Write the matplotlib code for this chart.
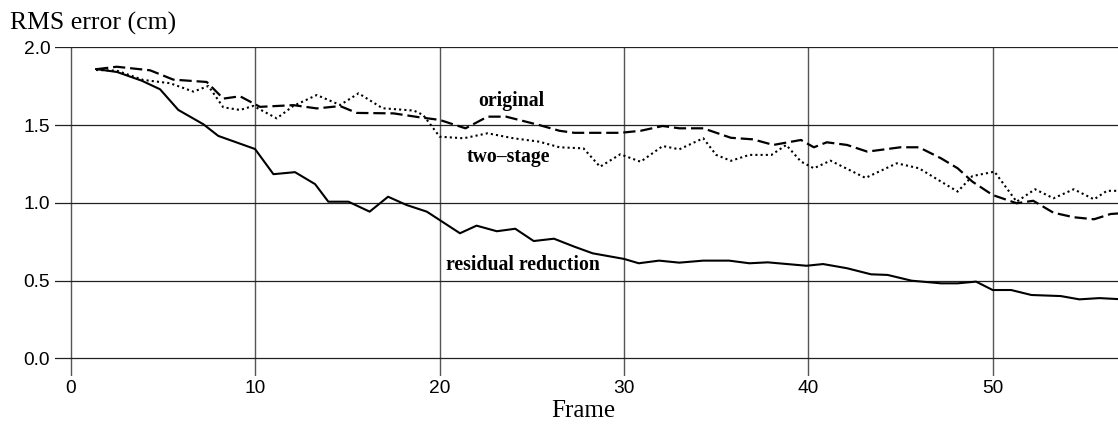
import matplotlib
matplotlib.use("Agg")
import matplotlib.pyplot as plt

# ---- data ----
res_x = [1.36, 2.5, 3.84, 4.83, 5.82, 7.18, 7.99, 9.98, 10.98, 12.15, 13.24, 13.96, 15.05,
         16.2, 17.2, 18.2, 19.3, 20.0, 21.1, 22.0, 23.1, 24.1, 25.1, 26.2, 27.3, 28.3, 30.0,
         30.8, 31.9, 33.0, 34.3, 35.7, 36.8, 37.8, 39.9, 40.8, 42.1, 43.4, 44.3, 45.6, 47.2,
         48.1, 49.1, 50.0, 51.0, 52.1, 53.7, 54.7, 55.8, 56.9]
res_y = [1.860, 1.841, 1.785, 1.730, 1.597, 1.505, 1.430, 1.346, 1.184, 1.197, 1.120, 1.007, 1.007,
         0.943, 1.039, 0.986, 0.943, 0.889, 0.804, 0.853, 0.817, 0.833, 0.754, 0.769, 0.718, 0.675, 0.639,
         0.611, 0.628, 0.615, 0.628, 0.628, 0.611, 0.617, 0.595, 0.606, 0.579, 0.540, 0.536, 0.499, 0.482,
         0.482, 0.493, 0.439, 0.439, 0.407, 0.400, 0.379, 0.387, 0.380]

orig_x = [1.36, 2.48, 4.29, 5.55, 7.36, 8.26, 9.17, 10.25, 12.06, 13.33, 14.6, 15.5, 17.5, 18.9,
          20.0, 21.4, 22.6, 23.6, 25.4, 26.5, 27.3, 29.8, 30.9, 32.1, 33.0, 34.3, 35.8, 37.0, 38.1,
          39.6, 40.3, 41.0, 42.1, 43.2, 45.0, 46.0, 47.2, 48.1, 48.9, 50.0, 51.3, 52.2, 53.3, 54.4,
          55.5, 56.4, 56.9]
orig_y = [1.859, 1.875, 1.852, 1.792, 1.777, 1.670, 1.685, 1.617, 1.628, 1.607, 1.622, 1.578, 1.575, 1.550,
          1.533, 1.479, 1.554, 1.554, 1.500, 1.463, 1.450, 1.450, 1.463, 1.494, 1.479, 1.479, 1.418, 1.408, 1.372,
          1.404, 1.357, 1.389, 1.372, 1.329, 1.357, 1.357, 1.286, 1.222, 1.136, 1.050, 0.997, 1.013, 0.936, 0.907,
          0.894, 0.928, 0.932]

two_x = [1.36, 2.48, 3.92, 5.37, 6.64, 7.45, 8.26, 9.17, 9.89, 11.16, 12.06, 13.33, 14.6, 15.6, 16.9,
         18.6, 19.1, 20.0, 21.3, 22.6, 24.0, 25.4, 26.5, 27.8, 28.7, 29.8, 30.9, 32.1, 33.0, 34.3, 35.0,
         35.8, 36.8, 38.0, 38.8, 39.6, 40.3, 41.2, 43.1, 44.8, 46.0, 48.1, 48.9, 50.1, 51.3, 52.3, 53.3,
         54.4, 55.5, 56.2, 56.9]
two_y = [1.854, 1.850, 1.790, 1.769, 1.715, 1.751, 1.614, 1.597, 1.623, 1.543, 1.623, 1.693, 1.629, 1.704, 1.608,
         1.593, 1.565, 1.425, 1.415, 1.447, 1.415, 1.393, 1.357, 1.350, 1.232, 1.312, 1.264, 1.365, 1.344, 1.415, 1.308,
         1.270, 1.308, 1.308, 1.372, 1.265, 1.222, 1.271, 1.160, 1.254, 1.222, 1.072, 1.172, 1.200, 1.007, 1.087, 1.029,
         1.087, 1.022, 1.077, 1.077]

x_ticks = [0, 10, 20, 30, 40, 50]
y_ticks = [0.0, 0.5, 1.0, 1.5, 2.0]
y_tick_labels = ["0.0", "0.5", "1.0", "1.5", "2.0"]

# ---- figure ----
fig = plt.figure(figsize=(11.18, 4.25), dpi=100)
ax = fig.add_axes([0.0492, 0.1153, 0.9508, 0.7734])
ax.set_xlim(-0.87, 56.8)
ax.set_ylim(-0.114, 2.0)

for s in ax.spines.values():
    s.set_visible(False)

ax.set_xticks(x_ticks)
ax.set_yticks(y_ticks)
ax.set_yticklabels(y_tick_labels)
ax.tick_params(axis="both", length=0, labelsize=13.8)
ax.tick_params(axis="x", pad=3)
ax.tick_params(axis="y", pad=3.5)
for lab in ax.get_xticklabels() + ax.get_yticklabels():
    lab.set_fontfamily("Liberation Sans")

ax.xaxis.grid(True, color="#555555", lw=1.0)
ax.yaxis.grid(True, color="#222222", lw=0.9)
ax.set_axisbelow(True)

ax.plot(res_x, res_y, color="black", lw=1.5, ls="-")
ax.plot(orig_x, orig_y, color="black", lw=1.6, ls=(0, (5.5, 2.2)))
ax.plot(two_x, two_y, color="black", lw=1.5, ls=(0, (1, 1.5)))

bold = dict(fontfamily="Liberation Serif", fontweight="bold", fontsize=14.2,
            ha="center", va="baseline")
ax.text(23.87, 1.622, "original", **bold)
ax.text(23.71, 1.264, "two\u2013stage", **bold)
ax.text(24.53, 0.568, "residual reduction", **bold)

fig.text(10 / 1118, 1 - 29.5 / 425, "RMS error (cm)", fontfamily="Liberation Serif",
         fontsize=18.5, ha="left", va="baseline")
fig.text(583 / 1118, 3 / 425, "Frame", fontfamily="Liberation Serif",
         fontsize=18, ha="center", va="bottom")

fig.savefig("out.png", dpi=100)
